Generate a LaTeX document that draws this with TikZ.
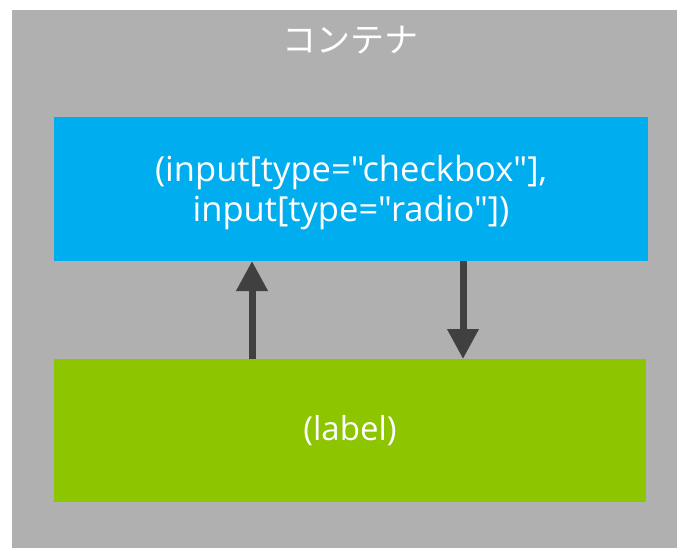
\documentclass[tikz,border=0pt]{standalone}
\usepackage{fontspec}
\setmainfont{Open Sans}[Ligatures=TeXOff]
\newfontfamily\cjkfont{Noto Sans CJK JP}
\usetikzlibrary{arrows.meta}
\definecolor{cgray}{RGB}{176,176,176}
\definecolor{cblue}{RGB}{0,174,239}
\definecolor{cgreen}{RGB}{141,197,0}
\definecolor{carrow}{RGB}{64,64,64}
\tikzset{
  box/.style={anchor=north west, inner sep=0pt, outer sep=0pt, text=white, align=center},
  arr/.style={draw=carrow, line width=7pt, -{Triangle[width=30pt,length=30pt]}},
}
\begin{document}
\begin{tikzpicture}[x=1pt,y=-1pt]
\useasboundingbox (0,0) rectangle (677,548);
\fill[white] (0,0) rectangle (677,548);
\node[box, fill=cgray, minimum width=665pt, minimum height=538pt] (cont) at (12,10) {};
\node[text=white, font=\cjkfont\fontsize{34}{40}\selectfont] (title) at (350,40) {コンテナ};
\node[box, fill=cblue, minimum width=594pt, minimum height=144pt] (blue) at (54,117) {};
\node[text=white, align=center, inner sep=0pt, font=\fontsize{34.5}{40}\selectfont]
  (bluetext) at ([yshift=-4pt]blue.center) {(input[type="checkbox"],\\input[type="radio"])};
\node[box, fill=cgreen, minimum width=592pt, minimum height=143pt,
      font=\fontsize{33}{40}\selectfont] (green) at (54,359) {(label)};
\coordinate (upx) at (252,0);
\coordinate (dnx) at (463,0);
\draw[arr] (green.north -| upx) -- (blue.south -| upx);
\draw[arr] (blue.south -| dnx) -- (green.north -| dnx);
\end{tikzpicture}
\end{document}
